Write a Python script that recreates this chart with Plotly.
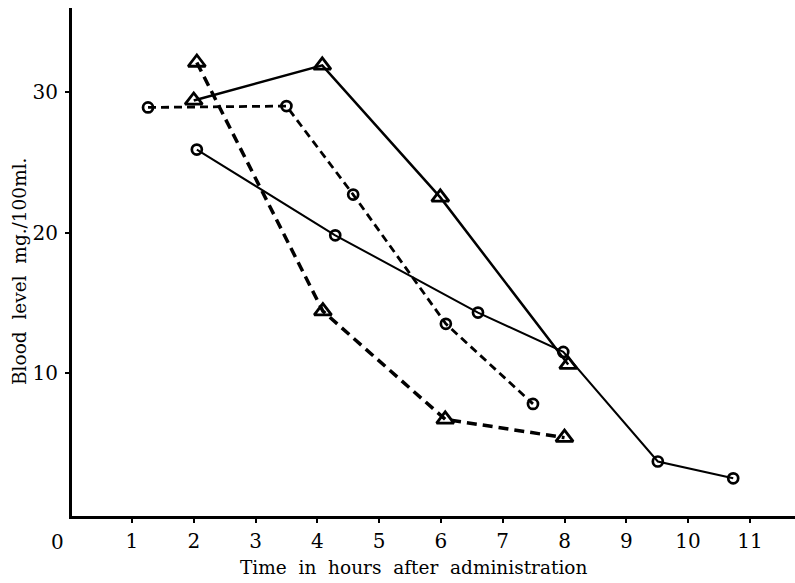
import plotly.graph_objects as go

# Series (hours, mg/100ml)
tri_solid_x = [2.0, 4.08, 5.99, 8.06]
tri_solid_y = [29.4, 31.9, 22.5, 10.6]

circ_solid_x = [2.05, 4.29, 6.6, 7.98, 9.51, 10.73]
circ_solid_y = [25.9, 19.8, 14.3, 11.5, 3.7, 2.5]

circ_dash_x = [1.26, 3.5, 4.58, 6.08, 7.49]
circ_dash_y = [28.9, 29.0, 22.7, 13.5, 7.8]

tri_dash_x = [2.05, 4.09, 6.07, 8.0]
tri_dash_y = [32.1, 14.4, 6.7, 5.4]

x_ticks = [1, 2, 3, 4, 5, 6, 7, 8, 9, 10, 11]
y_ticks = [10, 20, 30]

FONT = "DejaVu Serif"

# plot area in pixels (for placing the free text)
L, R, T, B = 72, 795, 8, 516
def px(xp):
    return (xp - L) / (R - L)
def py(yp):
    return (B - yp) / (B - T)

fig = go.Figure()

fig.add_trace(go.Scatter(
    x=circ_solid_x, y=circ_solid_y, mode="lines+markers",
    line=dict(color="black", width=2),
    marker=dict(symbol="circle-open", size=10, color="black", line=dict(width=2.7)),
))
fig.add_trace(go.Scatter(
    x=tri_solid_x, y=tri_solid_y, mode="lines+markers",
    line=dict(color="black", width=2.5),
    marker=dict(symbol="triangle-up-open", size=15, color="black", line=dict(width=2.8)),
))
fig.add_trace(go.Scatter(
    x=circ_dash_x, y=circ_dash_y, mode="lines+markers",
    line=dict(color="black", width=2.8, dash="8px,5px"),
    marker=dict(symbol="circle-open", size=10, color="black", line=dict(width=2.7)),
))
fig.add_trace(go.Scatter(
    x=tri_dash_x, y=tri_dash_y, mode="lines+markers",
    line=dict(color="black", width=3.5, dash="10px,6px"),
    marker=dict(symbol="triangle-up-open", size=15, color="black", line=dict(width=2.8)),
))

fig.update_layout(
    width=795, height=583,
    margin=dict(l=L, r=795 - R, t=T, b=583 - B),
    paper_bgcolor="white", plot_bgcolor="white",
    showlegend=False,
    font=dict(family=FONT, color="black", size=16),
    xaxis=dict(
        range=[0.03, 11.73], tickmode="array", tickvals=x_ticks,
        ticktext=[str(v) for v in x_ticks],
        showgrid=False, zeroline=False,
        showline=True, linecolor="black", linewidth=3,
        ticks="outside", ticklen=4, tickwidth=2, tickcolor="black",
        ticklabelstandoff=1,
        tickfont=dict(family=FONT, size=20, color="black"),
    ),
    yaxis=dict(
        range=[-0.18, 35.98], tickmode="array", tickvals=y_ticks,
        ticktext=[str(v) for v in y_ticks],
        showgrid=False, zeroline=False,
        showline=True, linecolor="black", linewidth=3,
        ticks="outside", ticklen=4, tickwidth=2, tickcolor="black",
        ticklabelstandoff=3,
        tickfont=dict(family=FONT, size=20, color="black"),
    ),
    annotations=[
        dict(text="0", x=px(57), xref="paper", y=py(542), yref="paper",
             xanchor="center", yanchor="middle", showarrow=False,
             font=dict(family=FONT, size=20, color="black")),
        dict(text="Time  in  hours  after  administration", x=px(413), xref="paper",
             y=py(567), yref="paper", xanchor="center", yanchor="middle",
             showarrow=False, font=dict(family=FONT, size=18.5, color="black")),
        dict(text="Blood  level  mg./100ml.", x=px(19), xref="paper",
             y=py(272), yref="paper", xanchor="center", yanchor="middle",
             textangle=-90, showarrow=False,
             font=dict(family=FONT, size=18.5, color="black")),
    ],
)

fig.write_html("out.html")
